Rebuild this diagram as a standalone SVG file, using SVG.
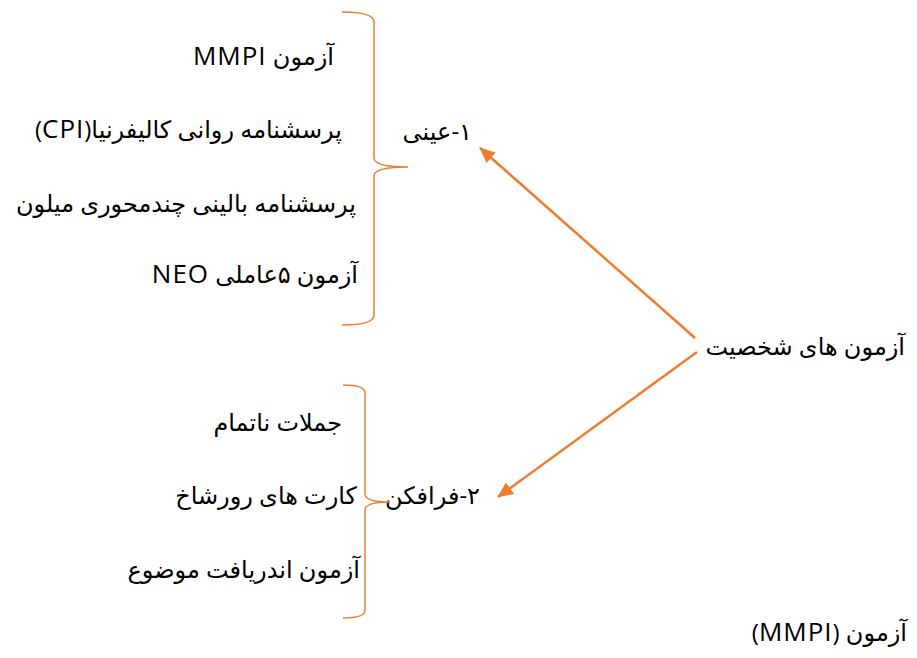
<svg xmlns="http://www.w3.org/2000/svg" width="917" height="658" viewBox="0 0 917 658">
  <style>
    .t { font-family: "Open Sans", "DejaVu Sans", sans-serif; font-size: 24px; fill: #000; direction: rtl; text-anchor: start; }
    .lat { font-size: 26px; letter-spacing: 1px; }
    .brace { fill: none; stroke: #ED7D31; stroke-width: 1.5; }
    .arrow { fill: none; stroke: #ED7D31; stroke-width: 2.5; marker-end: url(#head); }
  </style>
  <defs>
    <marker id="head" viewBox="0 0 16 14" refX="15" refY="7" markerWidth="16" markerHeight="14" markerUnits="userSpaceOnUse" orient="auto">
      <path d="M0,0 L16,7 L0,14 Z" fill="#ED7D31"/>
    </marker>
  </defs>
  <rect width="917" height="658" fill="#fff"/>

  <!-- root -->
  <g id="root">
    <text class="t" x="905" y="355">آزمون های شخصیت</text>
  </g>

  <!-- objective tests -->
  <g id="objective">
    <text class="t" x="472" y="140">۱-عینی</text>
    <path class="brace" d="M342,12 Q374,12 374,22 V158 Q374,167 408,167 Q374,167 374,176 V315 Q374,325 342,325"/>
    <text class="t" x="334" y="65">آزمون <tspan class="lat">MMPI</tspan></text>
    <text class="t" x="342" y="138">پرسشنامه روانی کالیفرنیا(<tspan class="lat">CPI</tspan>)</text>
    <text class="t" x="356" y="212">پرسشنامه بالینی چندمحوری میلون</text>
    <text class="t" x="358" y="283">آزمون ۵عاملی <tspan class="lat">NEO</tspan></text>
  </g>

  <!-- projective tests -->
  <g id="projective">
    <text class="t" x="480" y="504">۲-فرافکن</text>
    <path class="brace" d="M343,385 Q365,385 365,393 V494 Q365,502 390,502 Q365,502 365,510 V610 Q365,618 343,618"/>
    <text class="t" x="342" y="431">جملات ناتمام</text>
    <text class="t" x="357" y="504">کارت های رورشاخ</text>
    <text class="t" x="360" y="578">آزمون اندریافت موضوع</text>
  </g>

  <g id="note">
    <text class="t" x="907" y="641">آزمون (<tspan class="lat">MMPI</tspan>)</text>
  </g>

  <!-- connectors -->
  <g id="connectors">
    <line class="arrow" x1="695" y1="338" x2="480" y2="148"/>
    <line class="arrow" x1="697" y1="352" x2="498" y2="497"/>
  </g>
</svg>
